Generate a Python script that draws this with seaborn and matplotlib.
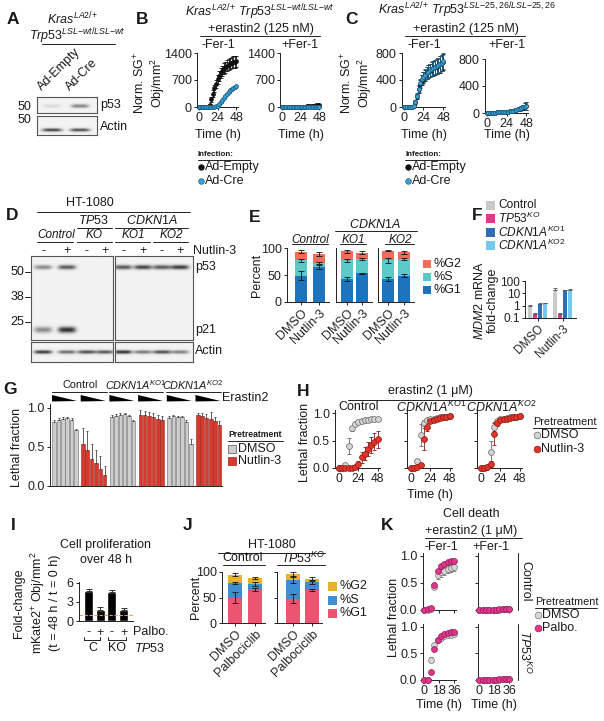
import numpy as np
import matplotlib
matplotlib.use("Agg")
import matplotlib.pyplot as plt
import seaborn as sns
from matplotlib.lines import Line2D
from matplotlib.patches import Rectangle, Polygon

# ---------------- data ----------------
# A: blot band intensities
a_lanes = ['Ad-Empty', 'Ad-Cre']
a_p53 = [0.12, 0.55]
a_actin = [0.85, 0.8]

# B / C: Norm. SG+ Obj/mm2 over time
t_bc = [0, 2, 4, 6, 8, 10, 12, 14, 16, 18, 20, 22, 24, 26, 28, 30, 32, 34, 36, 38, 40, 42, 44, 46, 48]
b_minus_empty = [0, 0, 0, 0, 0, 0, 10, 60, 200, 350, 480, 600, 720, 800, 880, 940, 990, 1030, 1070, 1100, 1130, 1150, 1160, 1170, 1180]
b_minus_empty_err = [0, 0, 0, 0, 0, 0, 10, 30, 60, 80, 100, 110, 120, 125, 130, 135, 140, 140, 145, 145, 145, 150, 150, 150, 150]
b_minus_cre = [0, 0, 0, 0, 0, 0, 0, 2, 4, 6, 10, 18, 35, 70, 120, 175, 230, 290, 340, 390, 430, 470, 500, 525, 545]
b_minus_cre_err = [0, 0, 0, 0, 0, 0, 0, 0, 0, 0, 0, 0, 5, 8, 10, 12, 14, 15, 16, 17, 18, 18, 19, 20, 20]
b_plus_empty = [0, 0, 0, 0, 0, 0, 0, 0, 0, 2, 3, 5, 6, 8, 10, 12, 15, 18, 21, 25, 30, 35, 40, 45, 50]
b_plus_empty_err = [0, 0, 0, 0, 0, 0, 0, 0, 0, 2, 2, 3, 3, 4, 4, 5, 5, 6, 6, 7, 8, 9, 10, 11, 12]
b_plus_cre = [0, 0, 0, 0, 0, 0, 0, 0, 0, 0, 1, 1, 2, 2, 3, 3, 4, 5, 6, 7, 8, 9, 10, 11, 12]
b_plus_cre_err = [0, 0, 0, 0, 0, 0, 0, 0, 0, 0, 1, 1, 1, 1, 2, 2, 2, 2, 3, 3, 3, 3, 4, 4, 4]

c_minus_empty = [0, 0, 0, 0, 0, 5, 15, 70, 160, 260, 340, 400, 440, 470, 500, 520, 540, 560, 575, 590, 600, 615, 630, 650, 670]
c_minus_empty_err = [0, 0, 0, 0, 0, 3, 8, 20, 35, 50, 60, 70, 80, 85, 90, 95, 100, 105, 110, 110, 115, 115, 120, 120, 120]
c_minus_cre = [0, 0, 0, 0, 0, 5, 20, 80, 170, 270, 350, 410, 450, 480, 505, 525, 545, 560, 575, 590, 605, 620, 635, 655, 680]
c_minus_cre_err = [0, 0, 0, 0, 0, 3, 8, 20, 35, 50, 60, 70, 75, 80, 85, 90, 95, 100, 105, 105, 110, 110, 115, 115, 115]
c_plus_empty = [5, 5, 5, 6, 6, 7, 8, 9, 10, 12, 14, 16, 18, 20, 24, 28, 32, 38, 44, 52, 60, 70, 80, 92, 105]
c_plus_empty_err = [1, 1, 1, 1, 1, 2, 2, 2, 3, 3, 4, 5, 6, 7, 8, 10, 12, 14, 17, 20, 25, 30, 40, 50, 60]
c_plus_cre = [5, 5, 5, 6, 6, 7, 8, 9, 10, 12, 14, 16, 18, 21, 25, 30, 35, 40, 48, 56, 65, 75, 85, 95, 110]
c_plus_cre_err = [1, 1, 1, 1, 1, 2, 2, 2, 3, 3, 4, 5, 6, 7, 8, 10, 12, 14, 17, 20, 25, 30, 40, 50, 60]

# D: blot
d_nutlin = ['-', '+', '-', '+', '-', '+', '-', '+']
d_p53 = [0.5, 0.75, 0.0, 0.0, 0.75, 0.85, 0.75, 0.9]
d_p21 = [0.5, 0.95, 0.0, 0.0, 0.0, 0.0, 0.0, 0.0]
d_actin = [0.9, 0.65, 0.8, 0.75, 0.95, 0.6, 0.8, 0.55]
d_mw = ['50', '38', '25']

# E: cell cycle (%), order Control DMSO/Nutlin, KO1 DMSO/Nutlin, KO2 DMSO/Nutlin
e_treat = ['DMSO', 'Nutlin-3']
e_g1 = [49, 65, 42, 53, 43, 49]
e_s = [28, 7, 35, 27, 34, 30]
e_g2 = [16, 17, 17, 11, 18, 13]
e_g1_err = [9, 4, 4, 1, 4, 2]
e_s_err = [3, 2, 3, 2, 4, 2]
e_g2_err = [3, 4, 3, 3, 1, 3]

# F: MDM2 mRNA fold-change
f_treat = ['DMSO', 'Nutlin-3']
f_lines = ['Control', r'$\mathit{TP53}^{\mathit{KO}}$', r'$\mathit{CDKN1A}^{\mathit{KO1}}$', r'$\mathit{CDKN1A}^{\mathit{KO2}}$']
f_values = [[1.0, 20.0], [0.2, 0.2], [1.4, 17.0], [1.6, 19.0]]
f_errors = [[0.05, 8.0], [0.05, 0.07], [0.1, 3.0], [0.1, 2.0]]

# G: lethal fraction, 6 erastin2 doses per group
g_control_dmso = [0.82, 0.85, 0.86, 0.87, 0.85, 0.72]
g_control_nutlin = [0.54, 0.46, 0.34, 0.29, 0.22, 0.14]
g_ko1_dmso = [0.88, 0.89, 0.91, 0.92, 0.89, 0.83]
g_ko1_nutlin = [0.91, 0.91, 0.90, 0.88, 0.86, 0.84]
g_ko2_dmso = [0.87, 0.89, 0.88, 0.88, 0.82, 0.54]
g_ko2_nutlin = [0.91, 0.89, 0.87, 0.86, 0.83, 0.78]
g_control_dmso_err = [0.02, 0.02, 0.02, 0.01, 0.02, 0.01]
g_control_nutlin_err = [0.20, 0.25, 0.20, 0.17, 0.16, 0.12]
g_ko1_dmso_err = [0.03, 0.03, 0.02, 0.02, 0.02, 0.02]
g_ko1_nutlin_err = [0.06, 0.05, 0.05, 0.05, 0.05, 0.05]
g_ko2_dmso_err = [0.02, 0.02, 0.02, 0.01, 0.02, 0.06]
g_ko2_nutlin_err = [0.03, 0.04, 0.05, 0.09, 0.05, 0.05]

# H: lethal fraction over time
t_h = [0, 4, 8, 12, 16, 20, 24, 28, 32, 36, 40, 44, 48]
h_control_dmso = [0, 0, 0.06, 0.40, 0.72, 0.80, 0.84, 0.86, 0.87, 0.88, 0.89, 0.89, 0.90]
h_control_dmso_err = [0, 0, 0.03, 0.15, 0.05, 0.04, 0.03, 0.03, 0.02, 0.02, 0.02, 0.02, 0.02]
h_control_nutlin = [0, 0, 0, 0, 0, 0.02, 0.08, 0.20, 0.26, 0.34, 0.42, 0.48, 0.52]
h_control_nutlin_err = [0, 0, 0, 0, 0, 0.02, 0.05, 0.10, 0.12, 0.13, 0.15, 0.15, 0.15]
h_ko1_dmso = [0, 0, 0.12, 0.60, 0.82, 0.87, 0.89, 0.90, 0.91, 0.92, 0.93, 0.93, 0.94]
h_ko1_dmso_err = [0, 0, 0.05, 0.20, 0.06, 0.03, 0.02, 0.02, 0.02, 0.02, 0.02, 0.02, 0.02]
h_ko1_nutlin = [0, 0, 0.01, 0.05, 0.52, 0.75, 0.85, 0.88, 0.90, 0.91, 0.92, 0.93, 0.94]
h_ko1_nutlin_err = [0, 0, 0.01, 0.05, 0.20, 0.08, 0.04, 0.03, 0.02, 0.02, 0.02, 0.02, 0.02]
h_ko2_dmso = [0, 0, 0.02, 0.30, 0.75, 0.86, 0.89, 0.90, 0.91, 0.92, 0.93, 0.93, 0.94]
h_ko2_dmso_err = [0, 0, 0.02, 0.20, 0.08, 0.04, 0.03, 0.02, 0.02, 0.02, 0.02, 0.02, 0.02]
h_ko2_nutlin = [0, 0, 0.02, 0.07, 0.62, 0.82, 0.87, 0.89, 0.90, 0.91, 0.92, 0.93, 0.94]
h_ko2_nutlin_err = [0, 0, 0.02, 0.05, 0.20, 0.06, 0.03, 0.02, 0.02, 0.02, 0.02, 0.02, 0.02]

# I: proliferation fold-change
i_palbo = ['-', '+', '-', '+']
i_fold = [4.7, 1.8, 4.5, 1.7]
i_err = [0.3, 0.45, 0.35, 0.4]

# J: cell cycle (%), Control DMSO/Palbo, TP53KO DMSO/Palbo
j_treat = ['DMSO', 'Palbociclib']
j_g1 = [50, 65, 48, 65]
j_s = [28, 11, 36, 15]
j_g2 = [17, 12, 12, 7]
j_g1_err = [10, 3, 8, 2]
j_s_err = [2, 4, 6, 3]
j_g2_err = [3, 2, 4, 3]

# K: lethal fraction over time
t_k = [0, 4, 8, 12, 16, 20, 24, 28, 32, 36]
k_ctrl_minus_dmso = [0, 0, 0.01, 0.42, 0.65, 0.70, 0.73, 0.76, 0.78, 0.80]
k_ctrl_minus_dmso_err = [0, 0, 0.01, 0.04, 0.08, 0.08, 0.08, 0.08, 0.08, 0.08]
k_ctrl_minus_palbo = [0, 0.01, 0.03, 0.47, 0.72, 0.82, 0.86, 0.88, 0.90, 0.91]
k_ko_minus_dmso = [0, 0, 0.38, 0.65, 0.76, 0.80, 0.82, 0.84, 0.85, 0.86]
k_ko_minus_dmso_err = [0, 0, 0.05, 0.03, 0.03, 0.03, 0.03, 0.03, 0.03, 0.03]
k_ko_minus_palbo = [0, 0, 0.15, 0.58, 0.75, 0.82, 0.86, 0.88, 0.90, 0.91]
k_plus_dmso = [0, 0, 0, 0, 0, 0, 0.005, 0.01, 0.01, 0.015]
k_plus_palbo = [0, 0, 0, 0, 0, 0.005, 0.01, 0.01, 0.015, 0.02]

# ---------------- style ----------------
FS = 9
sns.set_theme(style="ticks")
plt.rcParams['font.family'] = ['Liberation Sans', 'DejaVu Sans']
plt.rcParams.update({
    'font.size': FS,
    'mathtext.fontset': 'custom',
    'mathtext.rm': 'Liberation Sans',
    'mathtext.it': 'Liberation Sans:italic',
    'mathtext.bf': 'Liberation Sans:bold',
    'text.color': '#1a1a1a',
})
INK = '#222222'
W, H = 604, 721
fig = plt.figure(figsize=(W / 100, H / 100), dpi=100)


def fx(x):
    return x / W


def fy(y):
    return 1 - y / H


def add_ax(x0, y0, x1, y1):
    ax = fig.add_axes([fx(x0), fy(y1), (x1 - x0) / W, (y1 - y0) / H])
    ax.set_facecolor('none')
    return ax


def label(x, y, s, size=FS, ha='center', va='center', **kw):
    fig.text(fx(x), fy(y), s, size=size, ha=ha, va=va, **kw)


def rule(x0, x1, y, lw=0.7):
    fig.add_artist(Line2D([fx(x0), fx(x1)], [fy(y), fy(y)], lw=lw, color=INK))


def vrule(x, y0, y1, lw=0.7):
    fig.add_artist(Line2D([fx(x), fx(x)], [fy(y0), fy(y1)], lw=lw, color=INK))


def dot(x, y, face, edge, ms=4):
    fig.add_artist(Line2D([fx(x)], [fy(y)], marker='o', ms=ms, mfc=face, mec=edge, mew=0.5, ls=''))


def swatch(x, y, color, size=8, edge='none'):
    fig.add_artist(Rectangle((fx(x), fy(y + size / 2)), size / W, size / H, fc=color, ec=edge, lw=0.5))


def style(ax, ylabels=True, xlabels=True, size=FS):
    sns.despine(ax=ax)
    for sp in ('left', 'bottom'):
        ax.spines[sp].set_linewidth(0.7)
        ax.spines[sp].set_color(INK)
    ax.tick_params(length=2.5, width=0.7, pad=1.2, color=INK, labelcolor=INK, labelsize=size)
    ax.tick_params(labelleft=ylabels, labelbottom=xlabels)


def timecourse(ax, t, y, err, face, edge, s=9, ecolor=None):
    ax.errorbar(t, y, yerr=err, fmt='none', ecolor=ecolor or edge, elinewidth=0.6,
                capsize=1.2, capthick=0.6, zorder=2, clip_on=False)
    sns.scatterplot(x=t, y=y, ax=ax, color=face, edgecolor=edge, s=s, linewidth=0.5,
                    zorder=3, clip_on=False, legend=False)


def blot(box, lane_x, rows):
    x0, y0, x1, y1 = box
    ax = add_ax(x0, y0, x1, y1)
    xs = np.linspace(x0, x1, 240)
    ys = np.linspace(y0, y1, 160)
    X, Y = np.meshgrid(xs, ys)
    dark = np.zeros_like(X)
    for yc, hh, hw, vals in rows:
        for lx, v in zip(lane_x, vals):
            dark += v * np.exp(-((X - lx) / hw) ** 4) * np.exp(-((Y - yc) / hh) ** 2)
    img = 0.95 - 0.82 * np.clip(dark, 0, 1)
    ax.imshow(img, cmap='gray', vmin=0, vmax=1, extent=(x0, x1, y1, y0), aspect='auto',
              interpolation='bilinear')
    ax.set_xlim(x0, x1)
    ax.set_ylim(y1, y0)
    ax.set_xticks([])
    ax.set_yticks([])
    for sp in ax.spines.values():
        sp.set_visible(True)
        sp.set_color('#555555')
        sp.set_linewidth(0.8)
    return ax


def px_xlim(x0, x1, c0, c1):
    s = c1 - c0
    return (x0 - c0) / s, (x1 - c0) / s, s


# panel letters
for letter, x, y in [('A', 13, 20), ('B', 142, 20), ('C', 352, 20), ('D', 12, 215), ('E', 255, 217),
                     ('F', 477, 215), ('G', 10, 390), ('H', 303, 391), ('I', 13, 525),
                     ('J', 188, 525), ('K', 387, 526)]:
    label(x, y, letter, size=12.5, weight='bold')

# ---------------- A ----------------
label(72, 19, r'$\mathit{Kras}^{\mathit{LA2/{+}}}$')
label(77, 36, r'$\mathit{Trp53}^{\mathit{LSL{-}wt/LSL{-}wt}}$')
rule(42, 115, 44)
for x, s in zip([44, 72], a_lanes):
    fig.text(fx(x), fy(93), s, rotation=45, ha='left', va='bottom', rotation_mode='anchor', size=FS)
blot((37, 97, 97, 113), [52, 80], [(106, 1.8, 9, a_p53)])
blot((37, 116, 97, 135), [52, 80], [(130, 1.6, 10, a_actin)])
label(24, 107, '50')
label(24, 120, '50')
label(100, 105, 'p53', ha='left')
label(100, 127, 'Actin', ha='left')

# ---------------- B ----------------
label(260, 12, r'$\mathit{Kras}^{\mathit{LA2/{+}}}\ \mathit{Trp53}^{\mathit{LSL{-}wt/LSL{-}wt}}$')
label(261, 29, '+erastin2 (125 nM)')
rule(200, 320, 36)
label(218, 45, '-Fer-1')
label(300, 45, '+Fer-1')
EMPTY, CRE, CRE_EDGE = '#111111', '#3AA3D8', '#1c5a7d'
for (x0, x1), emp, emp_e, cre, cre_e in [((197, 238), b_minus_empty, b_minus_empty_err, b_minus_cre, b_minus_cre_err),
                                          ((280, 321), b_plus_empty, b_plus_empty_err, b_plus_cre, b_plus_cre_err)]:
    ax = add_ax(x0, 53, x1, 107)
    timecourse(ax, t_bc, emp, emp_e, EMPTY, EMPTY, s=8)
    timecourse(ax, t_bc, cre, cre_e, CRE, CRE_EDGE, s=8)
    ax.set_xlim(-2, 50)
    ax.set_ylim(0, 1400)
    ax.set_xticks([0, 24, 48])
    ax.set_yticks([0, 700, 1400])
    style(ax)
    label((x0 + x1) / 2, 135, 'Time (h)')
label(150, 83, 'Norm. SG$^{+}$\nObj/mm$^{2}$', rotation=90, linespacing=1.1)
label(198, 155, 'Infection:', size=5.8, weight='bold', ha='left')
rule(198, 250, 160)
dot(201, 167, EMPTY, EMPTY)
label(205, 167, 'Ad-Empty', ha='left')
dot(201, 181, CRE, CRE_EDGE)
label(205, 181, 'Ad-Cre', ha='left')

# ---------------- C ----------------
label(467, 10, r'$\mathit{Kras}^{\mathit{LA2/{+}}}\ \mathit{Trp53}^{\mathit{LSL{-}25,26/LSL{-}25,26}}$')
label(466, 29, '+erastin2 (125 nM)')
rule(405, 525, 36)
label(424, 45, '-Fer-1')
label(507, 45, '+Fer-1')
for (x0, y0, x1, y1), emp, emp_e, cre, cre_e in [((402, 53, 445, 107), c_minus_empty, c_minus_empty_err, c_minus_cre, c_minus_cre_err),
                                                  ((485, 59, 528, 113), c_plus_empty, c_plus_empty_err, c_plus_cre, c_plus_cre_err)]:
    ax = add_ax(x0, y0, x1, y1)
    timecourse(ax, t_bc, emp, emp_e, EMPTY, EMPTY, s=8)
    timecourse(ax, t_bc, cre, cre_e, CRE, CRE_EDGE, s=8)
    ax.set_xlim(-2, 50)
    ax.set_ylim(0, 800)
    ax.set_xticks([0, 24, 48])
    ax.set_yticks([0, 400, 800])
    style(ax)
    label((x0 + x1) / 2, 135, 'Time (h)')
label(357, 83, 'Norm. SG$^{+}$\nObj/mm$^{2}$', rotation=90, linespacing=1.1)
label(405, 155, 'Infection:', size=5.8, weight='bold', ha='left')
rule(405, 457, 160)
dot(408, 167, EMPTY, EMPTY)
label(412, 167, 'Ad-Empty', ha='left')
dot(408, 181, CRE, CRE_EDGE)
label(412, 181, 'Ad-Cre', ha='left')

# ---------------- D ----------------
label(90, 203, 'HT-1080')
rule(37, 190, 212)
label(94, 221, r'$\mathit{TP53}$')
label(152, 221, r'$\mathit{CDKN1A}$')
rule(77, 112, 228)
rule(115, 188, 228)
for cx, s, (l0, l1) in [(56, 'Control', (37, 73)), (94, 'KO', (77, 112)),
                        (133, 'KO1', (115, 150)), (171, 'KO2', (153, 188))]:
    label(cx, 235, s, style='italic', size=8.5)
    rule(l0, l1, 242)
d_lane_x = [43, 67, 87, 105, 123, 143, 162, 180]
for x, s in zip(d_lane_x, d_nutlin):
    label(x, 251, s)
label(193, 251, 'Nutlin-3', ha='left')
blot((31, 256, 113, 340), d_lane_x[:4], [(267, 2.2, 9, d_p53[:4]), (330, 3.0, 9, d_p21[:4])])
blot((115, 256, 193, 340), d_lane_x[4:], [(267, 2.2, 9, d_p53[4:]), (330, 3.0, 9, d_p21[4:])])
blot((31, 342, 113, 362), d_lane_x[:4], [(352, 1.8, 9, d_actin[:4])])
blot((115, 342, 193, 362), d_lane_x[4:], [(352, 1.8, 9, d_actin[4:])])
for s, y in zip(d_mw, [272, 297, 322]):
    label(17, y, s)
    rule(25, 30, y)
label(195, 267, 'p53', ha='left')
label(195, 330, 'p21', ha='left')
label(195, 351, 'Actin', ha='left')

# ---------------- E ----------------
E_COL = {'G2': '#F36B5A', 'S': '#5CC9C9', 'G1': '#1D74BC'}
label(310, 240, 'Control', style='italic', size=8.5)
rule(292, 328, 244)
label(375, 225, r'$\mathit{CDKN1A}$')
rule(335, 417, 231)
label(353, 240, 'KO1', style='italic', size=8.5)
rule(340, 366, 244)
label(400, 240, 'KO2', style='italic', size=8.5)
rule(385, 414, 244)
for k, (x0, x1, c0, c1) in enumerate([(287, 329, 301, 319), (336, 372, 347, 362), (378, 414, 388, 404)]):
    ax = add_ax(x0, 248, x1, 302)
    lo, hi, s = px_xlim(x0, x1, c0, c1)
    sl = slice(2 * k, 2 * k + 2)
    g1 = np.array(e_g1[sl])
    sp = np.array(e_s[sl])
    g2 = np.array(e_g2[sl])
    pos = [0, 1]
    ax.bar(pos, g1, width=12 / s, color=E_COL['G1'], lw=0)
    ax.bar(pos, sp, bottom=g1, width=12 / s, color=E_COL['S'], lw=0)
    ax.bar(pos, g2, bottom=g1 + sp, width=12 / s, color=E_COL['G2'], lw=0)
    for top, err in [(g1, e_g1_err[sl]), (g1 + sp, e_s_err[sl]), (g1 + sp + g2, e_g2_err[sl])]:
        ax.errorbar(pos, top, yerr=err, fmt='none', ecolor='#111111', elinewidth=0.6, capsize=2, capthick=0.6)
    ax.set_xlim(lo, hi)
    ax.set_ylim(0, 100)
    ax.set_yticks([0, 50, 100])
    ax.set_xticks(pos)
    ax.set_xticklabels(e_treat, rotation=45, ha='right', rotation_mode='anchor')
    style(ax, ylabels=(k == 0))
    if k > 0:
        ax.tick_params(axis='y', length=0)
label(257, 275, 'Percent', rotation=90)
for y, key in zip([264, 277, 290], ['G2', 'S', 'G1']):
    swatch(423, y, E_COL[key])
    label(434, y, '%' + key, ha='left')

# ---------------- F ----------------
F_COL = ['#C9C9C9', '#E3358C', '#2F6DB5', '#74C8EE']
axF = add_ax(525, 281, 576, 318)
axF.set_yscale('log')
for i, (vals, errs, col) in enumerate(zip(f_values, f_errors, F_COL)):
    pos = [g * 5 + i for g in range(len(f_treat))]
    axF.bar(pos, np.array(vals) - 0.1, bottom=0.1, width=0.85, color=col, lw=0)
    axF.errorbar(pos, vals, yerr=[[0] * len(errs), errs], fmt='none', ecolor='#555555',
                 elinewidth=0.6, capsize=1.2, capthick=0.6)
lo, hi, _ = px_xlim(525, 576, 530, 535)
axF.set_xlim(lo, hi)
axF.set_ylim(0.1, 100)
axF.set_yticks([0.1, 1, 10, 100], labels=['0.1', '1', '10', '100'])
axF.yaxis.set_minor_locator(matplotlib.ticker.NullLocator())
axF.set_xticks([1.5, 6.5])
axF.set_xticklabels(f_treat, rotation=45, ha='right', rotation_mode='anchor')
style(axF, size=8.5)
label(486, 300, '$\\mathit{MDM2}$ mRNA\nfold-change', rotation=90, linespacing=1.05)
for y, name, col in zip([205, 218.5, 232, 245.5], f_lines, F_COL):
    swatch(486, y, col, size=9)
    label(498, y, name, ha='left', size=8.6)

# ---------------- G ----------------
G_DMSO, G_NUT = '#CDCDCD', '#D63A2E'
g_series = [(g_control_dmso, g_control_dmso_err, G_DMSO), (g_control_nutlin, g_control_nutlin_err, G_NUT),
            (g_ko1_dmso, g_ko1_dmso_err, G_DMSO), (g_ko1_nutlin, g_ko1_nutlin_err, G_NUT),
            (g_ko2_dmso, g_ko2_dmso_err, G_DMSO), (g_ko2_nutlin, g_ko2_nutlin_err, G_NUT)]
axG = add_ax(50, 404, 222, 486)
for g, (vals, errs, col) in enumerate(g_series):
    pos = [g * 6.6 + i for i in range(len(vals))]
    edge = '#666666' if col == G_DMSO else '#9a241b'
    axG.bar(pos, vals, width=0.82, color=col, edgecolor=edge, lw=0.4)
    axG.errorbar(pos, vals, yerr=[[0] * len(errs), errs], fmt='none', ecolor='#444444',
                 elinewidth=0.6, capsize=1, capthick=0.6)
lo, hi, _ = px_xlim(50, 222, 54.2, 58.55)
axG.set_xlim(lo, hi)
axG.set_ylim(0, 1.05)
axG.set_yticks([0, 0.5, 1.0], labels=['0.0', '0.5', '1.0'])
axG.set_xticks([])
style(axG)
label(17, 447, 'Lethal fraction', rotation=90)
for cx, s, (l0, l1) in [(80, 'Control', (52, 107)), (136, r'$\mathit{CDKN1A}^{\mathit{KO1}}$', (109, 163)),
                        (193, r'$\mathit{CDKN1A}^{\mathit{KO2}}$', (166, 221))]:
    label(cx, 385, s, size=7.8)
    rule(l0, l1, 392)
for g in range(6):
    gx0 = 52 + g * 28.7
    fig.add_artist(Polygon([[fx(gx0), fy(395)], [fx(gx0), fy(401.5)], [fx(gx0 + 25), fy(401)]],
                           closed=True, fc='black', ec='none'))
label(222, 398, 'Erastin2', ha='left')
label(228, 435, 'Pretreatment', size=6.2, weight='bold', ha='left')
rule(228, 283, 441)
swatch(228, 449, G_DMSO, edge='#555555')
label(238, 449, 'DMSO', ha='left')
swatch(228, 461, G_NUT, edge='#9a241b')
label(238, 461, 'Nutlin-3', ha='left')

# ---------------- H ----------------
H_DMSO, H_DMSO_E, H_NUT, H_NUT_E = '#D4D4D4', '#666666', '#E0342A', '#8B1A12'
label(430, 391, 'erastin2 (1 μM)')
rule(348, 520, 400)
h_sets = [(335, 'Control', h_control_dmso, h_control_dmso_err, h_control_nutlin, h_control_nutlin_err),
          (407, r'$\mathit{CDKN1A}^{\mathit{KO1}}$', h_ko1_dmso, h_ko1_dmso_err, h_ko1_nutlin, h_ko1_nutlin_err),
          (477, r'$\mathit{CDKN1A}^{\mathit{KO2}}$', h_ko2_dmso, h_ko2_dmso_err, h_ko2_nutlin, h_ko2_nutlin_err)]
for k, (x0, title, dm, dm_e, nu, nu_e) in enumerate(h_sets):
    ax = add_ax(x0, 410, x0 + 45, 468)
    timecourse(ax, t_h, dm, dm_e, H_DMSO, H_DMSO_E, s=18)
    timecourse(ax, t_h, nu, nu_e, H_NUT, H_NUT_E, s=18)
    ax.set_xlim(-5, 51)
    ax.set_ylim(0, 1.055)
    ax.set_xticks([0, 24, 48])
    ax.set_yticks([0, 0.5, 1.0], labels=['0.0', '0.5', '1.0'])
    style(ax, ylabels=(k == 0), size=8.7)
    label(x0 + 24, 407, title)
label(430, 495, 'Time (h)')
label(305, 442, 'Lethal fraction', rotation=90)
label(533, 422, 'Pretreatment', size=7.8, ha='left')
rule(533, 596, 428)
dot(537, 435, H_DMSO, H_DMSO_E, ms=4.8)
label(541, 435, 'DMSO', ha='left')
dot(537, 449, H_NUT, H_NUT_E, ms=4.8)
label(541, 449, 'Nutlin-3', ha='left')

# ---------------- I ----------------
label(106, 545, 'Cell proliferation')
label(106, 560, 'over 48 h')
axI = add_ax(79, 582, 133, 621)
sns.barplot(x=[0, 1, 2, 3], y=i_fold, ax=axI, color='black', saturation=1, width=0.77, errorbar=None)
axI.errorbar([0, 1, 2, 3], i_fold, yerr=[[0] * 4, i_err], fmt='none', ecolor='#333333',
             elinewidth=0.7, capsize=2, capthick=0.7)
axI.axhline(1, color='#E5A33A', lw=0.8, ls=(0, (3, 1.5)))
lo, hi, _ = px_xlim(79, 133, 88.5, 100.2)
axI.set_xlim(lo, hi)
axI.set_ylim(0, 6.15)
axI.set_yticks([0, 3, 6])
axI.set_xticks([0, 1, 2, 3])
axI.set_xticklabels(i_palbo)
axI.set_xlabel('')
style(axI)
axI.tick_params(axis='x', length=0, pad=4)
label(133, 632, 'Palbo.', ha='left')
for b0, b1 in [(84, 100), (108, 126)]:
    rule(b0, b1, 640)
    vrule(b0, 637, 640)
    vrule(b1, 637, 640)
label(92.5, 648, 'C')
label(117, 648, 'KO')
label(134, 648, r'$\mathit{TP53}$', ha='left')
label(37, 603, 'Fold-change\nmKate2$^{+}$ Obj/mm$^{2}$\n(t = 48 h / t = 0 h)', rotation=90, linespacing=1.25)

# ---------------- J ----------------
J_COL = {'G2': '#EAB02F', 'S': '#3D8ED3', 'G1': '#EC5570'}
label(272, 545, 'HT-1080')
rule(218, 325, 553)
label(243, 558, 'Control')
rule(223, 265, 565)
label(303, 558, r'$\mathit{TP53}^{\mathit{KO}}$')
rule(277, 325, 565)
for k, (x0, x1, c0, c1) in enumerate([(222, 265, 235, 255), (277, 322, 293, 312)]):
    ax = add_ax(x0, 572, x1, 623)
    lo, hi, s = px_xlim(x0, x1, c0, c1)
    sl = slice(2 * k, 2 * k + 2)
    g1 = np.array(j_g1[sl])
    sp = np.array(j_s[sl])
    g2 = np.array(j_g2[sl])
    pos = [0, 1]
    ax.bar(pos, g1, width=14 / s, color=J_COL['G1'], lw=0)
    ax.bar(pos, sp, bottom=g1, width=14 / s, color=J_COL['S'], lw=0)
    ax.bar(pos, g2, bottom=g1 + sp, width=14 / s, color=J_COL['G2'], lw=0)
    for top, err in [(g1, j_g1_err[sl]), (g1 + sp, j_s_err[sl]), (g1 + sp + g2, j_g2_err[sl])]:
        ax.errorbar(pos, top, yerr=err, fmt='none', ecolor='#111111', elinewidth=0.6, capsize=2, capthick=0.6)
    ax.set_xlim(lo, hi)
    ax.set_ylim(0, 100)
    ax.set_yticks([0, 50, 100])
    ax.set_xticks(pos)
    ax.set_xticklabels(j_treat, rotation=45, ha='right', rotation_mode='anchor')
    style(ax, ylabels=(k == 0))
label(196, 597, 'Percent', rotation=90)
for y, key in zip([586, 600, 613], ['G2', 'S', 'G1']):
    swatch(328, y, J_COL[key], size=9)
    label(340, y, '%' + key, ha='left')

# ---------------- K ----------------
K_DMSO, K_DMSO_E, K_PAL, K_PAL_E = '#D6D6D6', '#777777', '#E2368D', '#8d1a55'
label(471, 514, 'Cell death')
label(471, 531, '+erastin2 (1 μM)')
rule(425, 522, 538)
label(441, 547, '-Fer-1')
label(491, 547, '+Fer-1')
zero = [0] * len(t_k)
k_sets = [((422.5, 553, 456, 610), k_ctrl_minus_dmso, k_ctrl_minus_dmso_err, k_ctrl_minus_palbo, True, False),
          ((477.5, 553, 511, 610), k_plus_dmso, zero, k_plus_palbo, False, False),
          ((422.5, 624, 456, 680), k_ko_minus_dmso, k_ko_minus_dmso_err, k_ko_minus_palbo, True, True),
          ((477.5, 624, 511, 680), k_plus_dmso, zero, k_plus_palbo, False, True)]
for (x0, y0, x1, y1), dm, dm_e, pa, ylab, xlab in k_sets:
    ax = add_ax(x0, y0, x1, y1)
    timecourse(ax, t_k, dm, dm_e, K_DMSO, K_DMSO_E, s=18)
    timecourse(ax, t_k, pa, zero, K_PAL, K_PAL_E, s=18)
    ax.set_xlim(-2, 38)
    ax.set_ylim(0, 1.055)
    ax.set_xticks([0, 18, 36])
    ax.set_yticks([0, 0.5, 1.0], labels=['0.0', '0.5', '1.0'])
    style(ax, ylabels=ylab, xlabels=xlab)
    if xlab:
        label((x0 + x1) / 2, 705, 'Time (h)')
vrule(518, 553, 610)
vrule(518, 624, 680)
label(525, 581, 'Control', rotation=270)
label(525, 652, r'$\mathit{TP53}^{\mathit{KO}}$', rotation=270)
label(394, 617, 'Lethal fraction', rotation=90)
label(535, 602, 'Pretreatment', size=7.8, ha='left')
rule(535, 597, 608)
dot(538, 615, K_DMSO, K_DMSO_E, ms=4.8)
label(542, 615, 'DMSO', ha='left')
dot(538, 628, K_PAL, K_PAL_E, ms=4.8)
label(542, 628, 'Palbo.', ha='left')

fig.savefig('out.png', dpi=100)
